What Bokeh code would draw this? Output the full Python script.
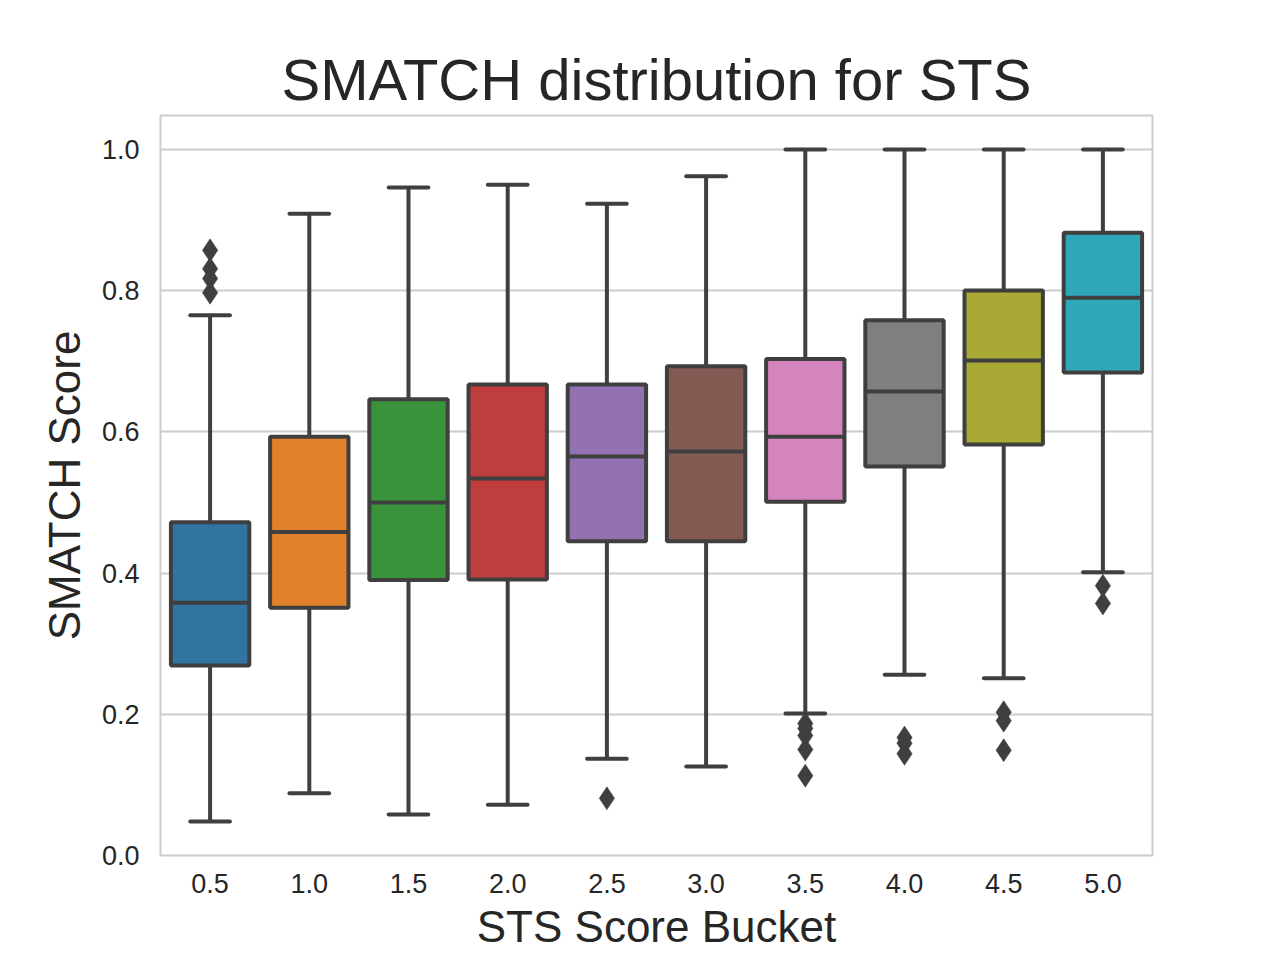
import numpy as np
from bokeh.plotting import figure
from bokeh.models import Range1d, FixedTicker, PrintfTickFormatter
from bokeh.embed import file_html
from bokeh.resources import INLINE

buckets = ["0.5", "1.0", "1.5", "2.0", "2.5", "3.0", "3.5", "4.0", "4.5", "5.0"]
whisker_low = [0.048, 0.088, 0.058, 0.072, 0.137, 0.126, 0.201, 0.256, 0.251, 0.401]
q1 = [0.269, 0.351, 0.390, 0.391, 0.445, 0.445, 0.501, 0.551, 0.582, 0.684]
median = [0.358, 0.458, 0.500, 0.534, 0.565, 0.572, 0.593, 0.657, 0.701, 0.790]
q3 = [0.472, 0.593, 0.646, 0.667, 0.667, 0.693, 0.703, 0.758, 0.800, 0.882]
whisker_high = [0.765, 0.909, 0.946, 0.950, 0.923, 0.962, 1.000, 1.000, 1.000, 1.000]
outlier_bucket = ["0.5", "0.5", "0.5", "0.5", "2.5",
                  "3.5", "3.5", "3.5", "3.5", "3.5",
                  "4.0", "4.0", "4.0",
                  "4.5", "4.5", "4.5",
                  "5.0", "5.0"]
outlier_value = [0.857, 0.831, 0.817, 0.797, 0.081,
                 0.187, 0.180, 0.170, 0.150, 0.113,
                 0.167, 0.159, 0.144,
                 0.203, 0.191, 0.149,
                 0.382, 0.357]
colors = ["#3274a1", "#e1812c", "#3a923a", "#c03d3e", "#9372b2",
          "#845b53", "#d684bd", "#7f7f7f", "#a9aa35", "#2ea8b9"]
y_ticks = [0.0, 0.2, 0.4, 0.6, 0.8, 1.0]

FONT = "Liberation Sans"
TXT = "#262626"
LINE = "#3f3f3f"
BOX_W = 0.79
CAP_W = 0.4

xs = np.arange(len(buckets), dtype=float)
ox = np.array([buckets.index(b) for b in outlier_bucket], dtype=float)

p = figure(frame_width=992, frame_height=740,
           x_range=Range1d(-0.5, len(buckets) - 0.5),
           y_range=Range1d(0.0, 1.048),
           output_backend="svg", toolbar_location=None,
           min_border_left=160, min_border_top=115,
           min_border_right=112, min_border_bottom=90,
           background_fill_color="white", border_fill_color="white")

p.title.text = "SMATCH distribution for STS"
p.title.text_font = FONT
p.title.text_font_size = "58px"
p.title.text_font_style = "normal"
p.title.text_color = TXT
p.title.align = "center"
p.title.standoff = 7

p.outline_line_color = "#cccccc"
p.outline_line_width = 2

p.xgrid.grid_line_color = None
p.ygrid.grid_line_color = "#cccccc"
p.ygrid.grid_line_width = 2

for ax in (p.xaxis[0], p.yaxis[0]):
    ax.axis_line_color = None
    ax.major_tick_line_color = None
    ax.minor_tick_line_color = None
    ax.major_label_text_font = FONT
    ax.major_label_text_font_size = "27px"
    ax.major_label_text_color = TXT
    ax.axis_label_text_font = FONT
    ax.axis_label_text_font_size = "44px"
    ax.axis_label_text_font_style = "normal"
    ax.axis_label_text_color = TXT

p.xaxis.ticker = FixedTicker(ticks=list(xs))
p.xaxis.major_label_overrides = {float(i): b for i, b in enumerate(buckets)}
p.xaxis.axis_label = "STS Score Bucket"
p.xaxis.major_label_standoff = 12
p.xaxis.axis_label_standoff = 6

p.yaxis.ticker = FixedTicker(ticks=y_ticks)
p.yaxis.formatter = PrintfTickFormatter(format="%.1f")
p.yaxis.axis_label = "SMATCH Score"
p.yaxis.major_label_standoff = 15
p.yaxis.axis_label_standoff = 10

# whiskers
p.segment(x0=xs, y0=q3, x1=xs, y1=whisker_high, line_color=LINE, line_width=4)
p.segment(x0=xs, y0=q1, x1=xs, y1=whisker_low, line_color=LINE, line_width=4)
# caps
p.segment(x0=xs - CAP_W / 2, y0=whisker_high, x1=xs + CAP_W / 2, y1=whisker_high,
          line_color=LINE, line_width=4, line_cap="round")
p.segment(x0=xs - CAP_W / 2, y0=whisker_low, x1=xs + CAP_W / 2, y1=whisker_low,
          line_color=LINE, line_width=4, line_cap="round")
# boxes
p.vbar(x=xs, bottom=q1, top=q3, width=BOX_W, fill_color=colors,
       line_color=LINE, line_width=4)
# medians
p.segment(x0=xs - BOX_W / 2, y0=median, x1=xs + BOX_W / 2, y1=median,
          line_color=LINE, line_width=4)
# outliers
p.scatter(x=ox, y=outlier_value, marker="diamond", size=23,
          fill_color=LINE, line_color=LINE, line_width=0.5)

open("out.html", "w").write(file_html(p, INLINE))
